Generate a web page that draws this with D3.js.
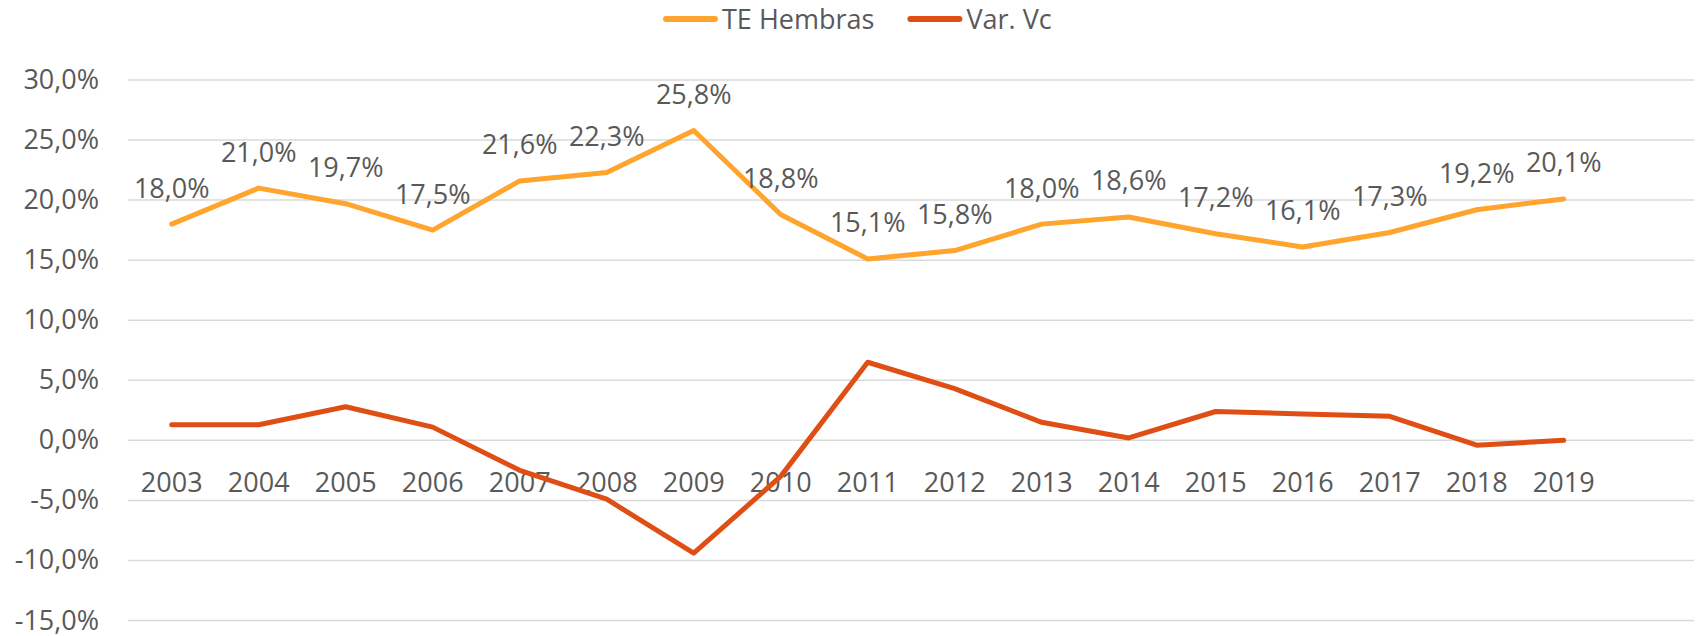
<!DOCTYPE html>
<html>
<head>
<meta charset="utf-8">
<script src="https://cdn.jsdelivr.net/npm/d3@7"></script>
<style>
  html, body { margin: 0; padding: 0; background: #fff; }
  svg { display: block; font-family: "Open Sans", "Noto Sans", sans-serif; }
</style>
</head>
<body>
<svg id="chart" width="1696" height="636"></svg>
<script>
// datos
const years = ["2003","2004","2005","2006","2007","2008","2009","2010","2011","2012","2013","2014","2015","2016","2017","2018","2019"];
const teHembras = [18.0, 21.0, 19.7, 17.5, 21.6, 22.3, 25.8, 18.8, 15.1, 15.8, 18.0, 18.6, 17.2, 16.1, 17.3, 19.2, 20.1];
const varVc = [1.3, 1.3, 2.8, 1.1, -2.5, -4.9, -9.4, -3.0, 6.5, 4.3, 1.5, 0.2, 2.4, 2.2, 2.0, -0.4, 0.0];
const yTicks = [30, 25, 20, 15, 10, 5, 0, -5, -10, -15];
const seriesNames = ["TE Hembras", "Var. Vc"];
const seriesColors = ["#FFA42C", "#DF4E14"];

const svg = d3.select("#chart");
const textColor = "#595959";
const fontSize = 27;

const plotLeft = 128, plotRight = 1694;

const x = d3.scalePoint()
  .domain(years)
  .range([171.7, 171.7 + 87 * (years.length - 1)]);

const y = d3.scaleLinear()
  .domain([-15, 30])
  .range([620.5, 80]);

const fmt = v => v.toFixed(1).replace(".", ",") + "%";

// lineas de cuadricula
svg.append("g").selectAll("line")
  .data(yTicks)
  .enter().append("line")
  .attr("x1", plotLeft).attr("x2", plotRight)
  .attr("y1", d => y(d)).attr("y2", d => y(d))
  .attr("stroke", "#D9D9D9")
  .attr("stroke-width", 1.5);

// etiquetas eje Y
svg.append("g").selectAll("text")
  .data(yTicks)
  .enter().append("text")
  .attr("x", 99)
  .attr("y", d => y(d) + 9)
  .attr("text-anchor", "end")
  .attr("font-size", fontSize)
  .attr("fill", textColor)
  .text(fmt);

// etiquetas eje X (junto al eje 0)
svg.append("g").selectAll("text")
  .data(years)
  .enter().append("text")
  .attr("x", d => x(d))
  .attr("y", y(0) + 51.5)
  .attr("text-anchor", "middle")
  .attr("font-size", fontSize)
  .attr("fill", textColor)
  .text(d => d);

const line = d3.line()
  .x((d, i) => x(years[i]))
  .y(d => y(d));

[teHembras, varVc].forEach((vals, k) => {
  svg.append("path")
    .datum(vals)
    .attr("d", line)
    .attr("fill", "none")
    .attr("stroke", seriesColors[k])
    .attr("stroke-width", 5)
    .attr("stroke-linejoin", "round")
    .attr("stroke-linecap", "round");
});

// etiquetas de datos TE Hembras
svg.append("g").selectAll("text")
  .data(teHembras)
  .enter().append("text")
  .attr("x", (d, i) => x(years[i]))
  .attr("y", d => y(d) - 26.5)
  .attr("text-anchor", "middle")
  .attr("font-size", fontSize)
  .attr("fill", textColor)
  .text(fmt);

// leyenda
const legend = svg.append("g");
let lx = 663;
seriesNames.forEach((name, k) => {
  legend.append("line")
    .attr("x1", lx + 3).attr("x2", lx + 52)
    .attr("y1", 19).attr("y2", 19)
    .attr("stroke", seriesColors[k])
    .attr("stroke-width", 6)
    .attr("stroke-linecap", "round");
  const t = legend.append("text")
    .attr("x", lx + 59)
    .attr("y", 29)
    .attr("font-size", fontSize)
    .attr("fill", textColor)
    .text(name);
  lx = lx + 59 + t.node().getComputedTextLength() + 33;
});
</script>
</body>
</html>
